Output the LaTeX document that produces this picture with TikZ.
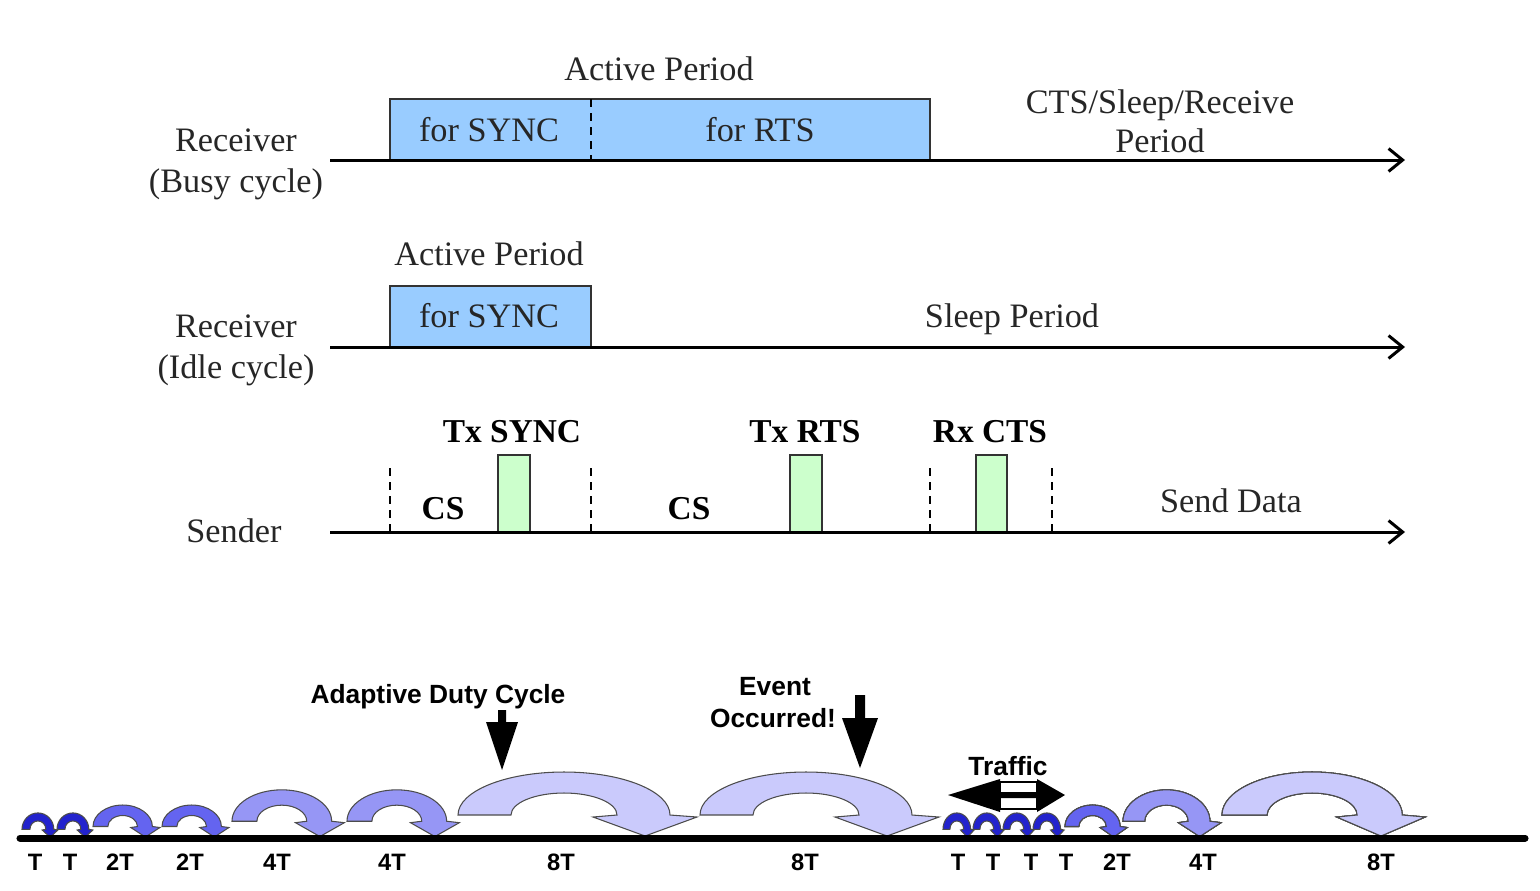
\documentclass[tikz,border=0pt]{standalone}
\usepackage{fontspec}
\setmainfont{Liberation Serif}
\setsansfont{Liberation Sans}
\usepackage{tikz}
\usetikzlibrary{arrows.meta}
\definecolor{syncblue}{RGB}{153,204,255}
\definecolor{txgreen}{RGB}{204,255,204}
\definecolor{hopA}{RGB}{35,35,205}
\definecolor{hopB}{RGB}{100,100,240}
\definecolor{hopC}{RGB}{150,150,245}
\definecolor{hopD}{RGB}{202,202,252}

% curved hop arrow: left foot x, x scale, y scale, colour
\newcommand{\hoparrow}[4]{%
  \begin{scope}[shift={(#1,838)},xscale=#2,yscale=#3]
    \filldraw[fill=#4,draw=black!70,line width=0.6pt]
      (0,-23) arc[start angle=180,end angle=360,x radius=106,y radius=43]
      -- (239,-21) -- (187,-2) -- (135,-21) -- (159,-23)
      arc[start angle=0,end angle=-180,x radius=53,y radius=22] -- cycle;
  \end{scope}}

\begin{document}
\begin{tikzpicture}[x=0.02cm,y=-0.02cm,
  txt/.style={anchor=base,text=black!85,font=\fontsize{19.5}{23}\selectfont},
  btxt/.style={anchor=base,font=\fontsize{19}{23}\selectfont\bfseries},
  lbl/.style={anchor=base,font=\sffamily\bfseries\fontsize{13.5}{16}\selectfont},
  note/.style={anchor=base,font=\sffamily\bfseries\fontsize{15}{17}\selectfont},
  timeline/.style={line width=1.7pt,-{Straight Barb[length=8pt,width=13pt,line width=1.7pt]}},
  period/.style={draw=black!80,fill=syncblue,line width=1.1pt},
  slot/.style={draw=black!80,fill=txgreen,line width=1.1pt},
  cutline/.style={line width=1pt,dash pattern=on 4.5pt off 3.5pt}]
\useasboundingbox (0,0) rectangle (1540,890);

% receiver, busy cycle
\draw[period] (390,99) rectangle (930,160);
\draw[cutline] (591,99) -- (591,160);
\coordinate (busyL) at (330,160);
\coordinate (busyR) at (1405,160);
\draw[timeline] (busyL) -- (busyR);
\node[txt] (act1) at (659,80) {Active Period};
\node[txt] (sync1) at (489,141) {for SYNC};
\node[txt] (rts1) at (760,141) {for RTS};
\node[txt] (cts) at (1160,113) {CTS/Sleep/Receive};
\node[txt] (ctsp) at (1160,152) {Period};
\node[txt] (rxb) at (236,151) {Receiver};
\node[txt] (rxbc) at (236,192) {(Busy cycle)};

% receiver, idle cycle
\draw[period] (390,286) rectangle (591,347);
\coordinate (idleL) at (330,347);
\coordinate (idleR) at (1405,347);
\draw[timeline] (idleL) -- (idleR);
\node[txt] (act2) at (489,265) {Active Period};
\node[txt] (sync2) at (489,327) {for SYNC};
\node[txt] (sleep) at (1012,327) {Sleep Period};
\node[txt] (rxi) at (236,337) {Receiver};
\node[txt] (rxic) at (236,378) {(Idle cycle)};

% sender
\foreach \x in {390,591,930,1052}
  \draw[cutline] (\x,468) -- (\x,532);
\draw[slot] (498,455) rectangle (530,532);
\draw[slot] (790,455) rectangle (822,532);
\draw[slot] (976,455) rectangle (1007,532);
\coordinate (sendL) at (330,532);
\coordinate (sendR) at (1405,532);
\draw[timeline] (sendL) -- (sendR);
\node[btxt] (txsync) at (512,442) {Tx SYNC};
\node[btxt] (txrts) at (805,442) {Tx RTS};
\node[btxt] (rxcts) at (990,442) {Rx CTS};
\node[btxt] (cs1) at (443,519) {CS};
\node[btxt] (cs2) at (689,519) {CS};
\node[txt] (data) at (1231,512) {Send Data};
\node[txt] (snd) at (234,542) {Sender};

% adaptive duty cycle
\hoparrow{22}{0.15}{0.38}{hopA}
\hoparrow{57}{0.15}{0.38}{hopA}
\hoparrow{93}{0.28}{0.5}{hopB}
\hoparrow{162}{0.28}{0.5}{hopB}
\hoparrow{232}{0.47}{0.73}{hopC}
\hoparrow{347}{0.47}{0.73}{hopC}
\hoparrow{458}{1}{1}{hopD}
\hoparrow{700}{1}{1}{hopD}
\foreach \x in {943,973,1003,1033}
  \hoparrow{\x}{0.13}{0.38}{hopA}
\hoparrow{1065}{0.26}{0.5}{hopB}
\hoparrow{1123}{0.41}{0.73}{hopC}
\hoparrow{1222}{0.85}{1}{hopD}
\coordinate (axisL) at (20,838);
\coordinate (axisR) at (1525,838);
\draw[line width=4pt,line cap=round] (axisL) -- (axisR);

\foreach \x/\t [count=\i] in {35/T,70/T,120/2T,190/2T,277/4T,392/4T,561/8T,805/8T,958/T,993/T,1031/T,1066/T,1117/2T,1203/4T,1381/8T}
  \node[lbl] (per\i) at (\x,870) {\t};

\fill (498,710) -- (506,710) -- (506,722) -- (518,722) -- (502,770) -- (486,722) -- (498,722) -- cycle;
\fill (855,695) -- (865,695) -- (865,718) -- (878,718) -- (860,768) -- (842,718) -- (855,718) -- cycle;
\draw[fill=white,line width=1.5pt] (1000,782) rectangle (1037,809);
\fill (948,795) -- (1000,779) -- (1000,792) -- (1037,792) -- (1037,779) -- (1065,795) -- (1037,812) -- (1037,798) -- (1000,798) -- (1000,812) -- cycle;
\node[note] (adc) at (438,703) {Adaptive Duty Cycle};
\node[note] (ev) at (775,695) {Event};
\node[note] (occ) at (773,727) {Occurred!};
\node[note] (trf) at (1008,775) {Traffic};
\end{tikzpicture}
\end{document}
